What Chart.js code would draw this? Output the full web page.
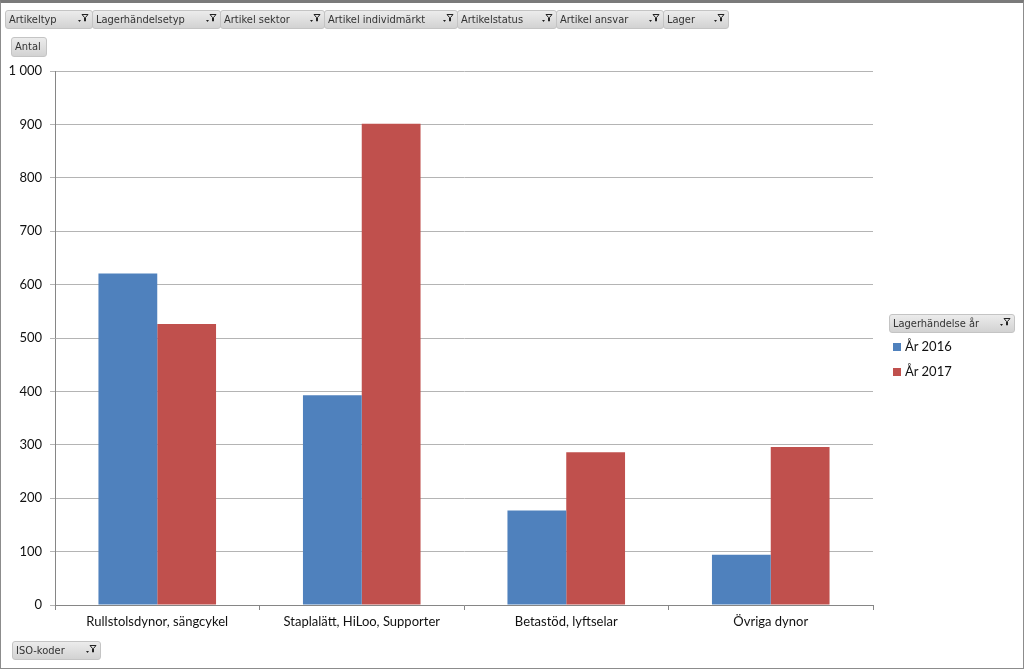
<!DOCTYPE html>
<html>
<head>
<meta charset="utf-8">
<script src="https://cdn.jsdelivr.net/npm/chart.js@4/dist/chart.umd.min.js"></script>
<style>
  html, body { margin: 0; padding: 0; background: #fff; }
  #wrap { position: relative; width: 1024px; height: 669px; overflow: hidden; }
  #frame { position: absolute; left: 0; top: 0; width: 1022px; height: 665px;
    border: 1px solid #8c8c8c; border-top: 3px solid #7a7a7a; pointer-events: none; }
  canvas { position: absolute; left: 0; top: 0; }
  .btn { position: absolute; height: 19px; box-sizing: border-box;
    background: linear-gradient(#ececec, #d2d2d2); border: 1px solid #c4c4c4; border-radius: 3px;
    font: 11px "DejaVu Sans Condensed", "Liberation Sans", sans-serif; color: #333;
    line-height: 17px; padding-left: 3px; white-space: nowrap; }
  .btn svg { position: absolute; right: 3px; top: 2px; }
  #legend { position: absolute; left: 893px; top: 337px; font: 13px Lato, "Open Sans", sans-serif; color: #111; }
  #legend div { height: 25px; line-height: 18px; }
  #legend span { display: inline-block; width: 8px; height: 8px; margin-right: 4px; }
</style>
</head>
<body>
<div id="wrap">
  <canvas id="chart" width="1024" height="669"></canvas>
  <div id="buttons"></div>
  <div id="legend"></div>
  <div id="frame"></div>
</div>
<script>
// data
const categories = ['Rullstolsdynor, sängcykel', 'Staplalätt, HiLoo, Supporter', 'Betastöd, lyftselar', 'Övriga dynor'];
const seriesNames = ['År 2016', 'År 2017'];
const values2016 = [621, 393, 177, 94];
const values2017 = [526, 901, 286, 296];
const colors = ['#4f81bd', '#c0504d'];

// pivot field buttons: [label, left, width, top]
const fieldButtons = [
  ['Artikeltyp', 5, 88, 10],
  ['Lagerhändelsetyp', 92, 129, 10],
  ['Artikel sektor', 220, 105, 10],
  ['Artikel individmärkt', 324, 134, 10],
  ['Artikelstatus', 457, 100, 10],
  ['Artikel ansvar', 556, 108, 10],
  ['Lager', 663, 66, 10],
  ['Antal', 11, 36, 37],
  ['ISO-koder', 12, 89, 641],
  ['Lagerhändelse år', 889, 126, 314]
];
const funnel = '<svg width="13" height="12" viewBox="0 0 13 12">' +
  '<path d="M6 1.5 L12 1.5 L9.5 4.5 L9.5 8 L8.5 8 L8.5 4.5 Z" fill="none" stroke="#222" stroke-width="1"/>' +
  '<path d="M2 7 L5 7 L3.5 9 Z" fill="#222"/></svg>';
const btnBox = document.getElementById('buttons');
fieldButtons.forEach(([label, left, width, top]) => {
  const d = document.createElement('div');
  d.className = 'btn';
  d.style.left = left + 'px';
  d.style.top = top + 'px';
  d.style.width = width + 'px';
  if (label === 'Antal') { d.style.height = '20px'; d.style.lineHeight = '18px'; d.textContent = label; }
  else { d.innerHTML = label + funnel; }
  btnBox.appendChild(d);
});

const legendBox = document.getElementById('legend');
seriesNames.forEach((name, i) => {
  legendBox.innerHTML += '<div><span style="background:' + colors[i] + '"></span>' + name + '</div>';
});

const chart = new Chart(document.getElementById('chart'), {
  type: 'bar',
  data: {
    labels: categories,
    datasets: [
      { label: seriesNames[0], data: values2016, backgroundColor: colors[0] },
      { label: seriesNames[1], data: values2017, backgroundColor: colors[1] }
    ]
  },
  options: {
    responsive: false,
    animation: false,
    layout: { padding: { left: 0, top: 71, right: 151, bottom: 34 } },
    datasets: { bar: { barPercentage: 1, categoryPercentage: 0.575 } },
    plugins: { legend: { display: false }, tooltip: { enabled: false } },
    scales: {
      x: {
        afterFit: s => { s.height = 30; },
        grid: { display: true, drawOnChartArea: false, tickLength: 5, color: '#868686' },
        border: { color: '#868686' },
        ticks: { color: '#111', font: { family: 'Lato', size: 13 }, padding: 4, maxRotation: 0 }
      },
      y: {
        min: 0, max: 1000,
        afterFit: s => { s.width = 55; },
        grid: { color: '#b4b4b4', tickLength: 5 },
        border: { color: '#868686' },
        ticks: {
          stepSize: 100, color: '#111', font: { family: 'Lato', size: 13 }, padding: 8,
          callback: v => v >= 1000 ? String(v).replace(/\B(?=(\d{3})+(?!\d))/g, ' ') : v
        }
      }
    }
  }
});
</script>
</body>
</html>
